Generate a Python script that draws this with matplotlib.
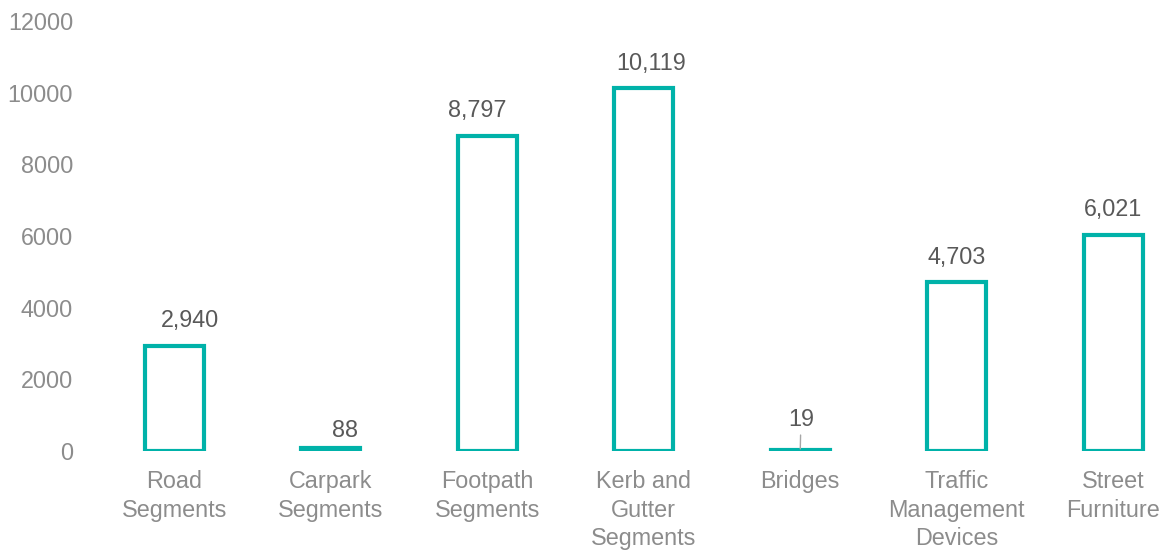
import matplotlib
matplotlib.use("Agg")
import matplotlib.pyplot as plt

categories = ["Road\nSegments", "Carpark\nSegments", "Footpath\nSegments",
              "Kerb and\nGutter\nSegments", "Bridges", "Traffic\nManagement\nDevices",
              "Street\nFurniture"]
values = [2940, 88, 8797, 10119, 19, 4703, 6021]
value_labels = ["2,940", "88", "8,797", "10,119", "19", "4,703", "6,021"]
yticks = [0, 2000, 4000, 6000, 8000, 10000, 12000]

# label x-offsets (in points) to mimic manual label placement
label_dx = [11.5, 10, -7, 5, 0.5, 0, 0]

plt.rcParams['font.family'] = ['Liberation Sans', 'DejaVu Sans']
teal = '#00B2A9'

fig = plt.figure(figsize=(11.69, 5.53), dpi=100)
ax = fig.add_axes([96/1169, 102/553, 1073/1169, 430/553])

x = list(range(len(categories)))
ax.bar(x, values, width=0.375, facecolor='white', edgecolor=teal, linewidth=3.0)

ax.set_xlim(-0.5, -0.5 + 1073/156.5)
ax.set_ylim(0, 12000)
ax.set_yticks(yticks)
ax.set_yticklabels([str(t) for t in yticks], fontsize=16.8, color='#8C8C8C')
ax.set_xticks(x)
ax.set_xticklabels(categories, fontsize=16.8, color='#8C8C8C', linespacing=1.3, va='top')
ax.tick_params(axis='both', length=0)
ax.tick_params(axis='x', pad=14)
ax.tick_params(axis='y', pad=16.5)
for s in ax.spines.values():
    s.set_visible(False)

for i, (v, lab) in enumerate(zip(values, value_labels)):
    if v < 50:
        ax.annotate(lab, xy=(i, v), xytext=(label_dx[i], 14), textcoords='offset points',
                    ha='center', va='bottom', fontsize=16.8, color='#595959',
                    arrowprops=dict(arrowstyle='-', color='#A6A6A6', lw=1.0,
                                    shrinkA=1, shrinkB=1))
    elif v < 200:
        ax.annotate(lab, xy=(i, v), xytext=(label_dx[i], 4), textcoords='offset points',
                    ha='center', va='bottom', fontsize=16.8, color='#595959')
    else:
        ax.annotate(lab, xy=(i, v), xytext=(label_dx[i], 10), textcoords='offset points',
                    ha='center', va='bottom', fontsize=16.8, color='#595959')

fig.savefig("out.png", dpi=100, facecolor='white')
